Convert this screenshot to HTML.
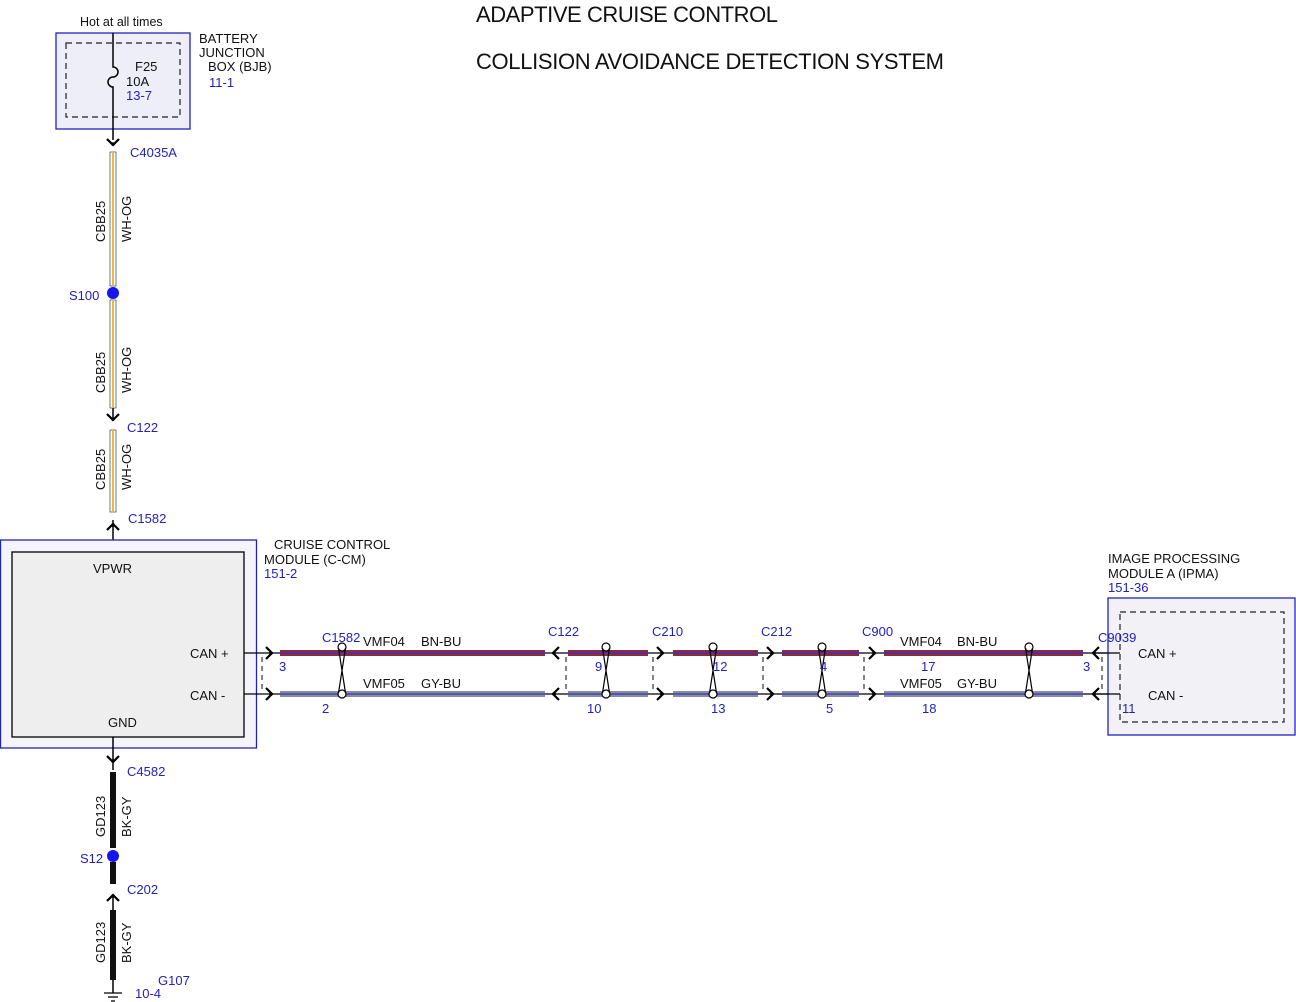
<!DOCTYPE html>
<html><head><meta charset="utf-8"><style>
html,body{margin:0;padding:0;background:#fff}
svg{display:block}
text{font-family:"Liberation Sans",Arial,sans-serif;font-size:13px;fill:#111}
.b{fill:#2222bb}
</style></head><body>
<svg width="1296" height="1002" viewBox="0 0 1296 1002" xmlns="http://www.w3.org/2000/svg">
<defs>
<g id="tw"><circle cx="0" cy="0" r="4" fill="#fff" stroke="#000" stroke-width="1.2"/><circle cx="0" cy="47" r="4" fill="#fff" stroke="#000" stroke-width="1.2"/><path d="M-3.5 1 L3.5 46 M3.5 1 L-3.5 46" stroke="#000" stroke-width="1.2" fill="none"/></g>
<g id="cr"><path d="M-6 -6 L0 0 L-6 6" stroke="#000" stroke-width="2.2" fill="none"/><circle cx="-1" cy="0" r="1.8" fill="#000"/></g>
<g id="cl"><path d="M6 -6 L0 0 L6 6" stroke="#000" stroke-width="2.2" fill="none"/><circle cx="1" cy="0" r="1.8" fill="#000"/></g>
<g id="cd"><path d="M-6 -6 L0 0 L6 -6" stroke="#000" stroke-width="2.2" fill="none"/><circle cx="0" cy="-1" r="1.8" fill="#000"/></g>
<g id="cu"><path d="M-6 6 L0 0 L6 6" stroke="#000" stroke-width="2.2" fill="none"/><circle cx="0" cy="1" r="1.8" fill="#000"/></g>
</defs>

<text x="476" y="22" style="font-size:22px" textLength="302">ADAPTIVE CRUISE CONTROL</text>
<text x="476" y="69" style="font-size:22px" textLength="468">COLLISION AVOIDANCE DETECTION SYSTEM</text>

<text x="80" y="26" style="font-size:12.5px">Hot at all times</text>
<rect x="56" y="33" width="134" height="96" fill="#eeeef8" stroke="#2222bb" stroke-width="1.3"/>
<rect x="66" y="43" width="114" height="74" fill="none" stroke="#222" stroke-dasharray="6,4" stroke-width="1.2"/>
<path d="M113 33 V67 a5 5 0 0 1 0 10 a5 5 0 0 0 0 10 V140" stroke="#000" stroke-width="1.5" fill="none"/>
<text x="135" y="71">F25</text>
<text x="126" y="86">10A</text>
<text x="126" y="100" class="b">13-7</text>
<text x="199" y="43">BATTERY</text>
<text x="199" y="57">JUNCTION</text>
<text x="208" y="71">BOX (BJB)</text>
<text x="209" y="87" class="b">11-1</text>
<use href="#cd" x="113" y="145"/>
<text x="130" y="157" class="b">C4035A</text>

<g>
<rect x="110" y="152" width="6" height="134" fill="#fff" stroke="#555" stroke-width="0.8"/>
<line x1="113" y1="152" x2="113" y2="286" stroke="#e8b84a" stroke-width="2"/>
<rect x="110" y="300" width="6" height="108" fill="#fff" stroke="#555" stroke-width="0.8"/>
<line x1="113" y1="300" x2="113" y2="408" stroke="#e8b84a" stroke-width="2"/>
<line x1="113" y1="408" x2="113" y2="418" stroke="#000" stroke-width="1.5"/>
<use href="#cd" x="113" y="420"/>
<rect x="110" y="430" width="6" height="82" fill="#fff" stroke="#555" stroke-width="0.8"/>
<line x1="113" y1="430" x2="113" y2="512" stroke="#e8b84a" stroke-width="2"/>
<line x1="113" y1="520" x2="113" y2="552" stroke="#000" stroke-width="1.5"/>
<use href="#cu" x="113" y="524"/>
</g>
<circle cx="113" cy="293" r="6" fill="#1515ee"/>
<text x="69" y="300" class="b">S100</text>
<text transform="translate(105,242) rotate(-90)">CBB25</text>
<text transform="translate(131,242) rotate(-90)">WH-OG</text>
<text transform="translate(105,393) rotate(-90)">CBB25</text>
<text transform="translate(131,393) rotate(-90)">WH-OG</text>
<text transform="translate(105,490) rotate(-90)">CBB25</text>
<text transform="translate(131,490) rotate(-90)">WH-OG</text>
<text x="127" y="432" class="b">C122</text>
<text x="128" y="523" class="b">C1582</text>

<rect x="0.5" y="540" width="256" height="208" fill="#f4f4fa" stroke="#2222bb" stroke-width="1.3"/>
<rect x="12" y="552" width="232" height="185" fill="#efeeee" stroke="#000" stroke-width="1.3"/>
<text x="93" y="573">VPWR</text>
<text x="108" y="727">GND</text>
<text x="190" y="658">CAN +</text>
<text x="190" y="700">CAN -</text>
<text x="274" y="549">CRUISE CONTROL</text>
<text x="264" y="564">MODULE (C-CM)</text>
<text x="264" y="578" class="b">151-2</text>

<line x1="244" y1="653" x2="1120" y2="653" stroke="#000" stroke-width="1.2"/>
<line x1="244" y1="694" x2="1120" y2="694" stroke="#000" stroke-width="1.2"/>
<g stroke="#333" stroke-dasharray="5,4" stroke-width="1.2">
<line x1="262" y1="657" x2="262" y2="692"/>
<line x1="566" y1="657" x2="566" y2="692"/>
<line x1="653" y1="657" x2="653" y2="692"/>
<line x1="763" y1="657" x2="763" y2="692"/>
<line x1="864" y1="657" x2="864" y2="692"/>
<line x1="1102" y1="657" x2="1102" y2="692"/>
</g>
<g>
<rect x="280" y="650" width="265" height="6" fill="#8c2a3e"/><rect x="568" y="650" width="80" height="6" fill="#8c2a3e"/><rect x="673" y="650" width="85" height="6" fill="#8c2a3e"/><rect x="782" y="650" width="77" height="6" fill="#8c2a3e"/><rect x="884" y="650" width="199" height="6" fill="#8c2a3e"/>
<rect x="280" y="691" width="265" height="6" fill="#8a8c9a"/><rect x="568" y="691" width="80" height="6" fill="#8a8c9a"/><rect x="673" y="691" width="85" height="6" fill="#8a8c9a"/><rect x="782" y="691" width="77" height="6" fill="#8a8c9a"/><rect x="884" y="691" width="199" height="6" fill="#8a8c9a"/>
<g stroke="#3333cc" stroke-width="1.3">
<line x1="280" y1="653" x2="545" y2="653"/><line x1="568" y1="653" x2="648" y2="653"/><line x1="673" y1="653" x2="758" y2="653"/><line x1="782" y1="653" x2="859" y2="653"/><line x1="884" y1="653" x2="1083" y2="653"/>
<line x1="280" y1="694" x2="545" y2="694"/><line x1="568" y1="694" x2="648" y2="694"/><line x1="673" y1="694" x2="758" y2="694"/><line x1="782" y1="694" x2="859" y2="694"/><line x1="884" y1="694" x2="1083" y2="694"/>
</g>
</g>
<use href="#cr" x="272" y="653"/><use href="#cr" x="272" y="694"/>
<use href="#cl" x="553" y="653"/><use href="#cl" x="553" y="694"/>
<use href="#cr" x="663" y="653"/><use href="#cr" x="663" y="694"/>
<use href="#cr" x="773" y="653"/><use href="#cr" x="773" y="694"/>
<use href="#cr" x="875" y="653"/><use href="#cr" x="875" y="694"/>
<use href="#cl" x="1093" y="653"/><use href="#cl" x="1093" y="694"/>
<use href="#tw" x="342" y="647"/><use href="#tw" x="606" y="647"/><use href="#tw" x="713" y="647"/><use href="#tw" x="822" y="647"/><use href="#tw" x="1029" y="647"/>

<text x="322" y="642" class="b">C1582</text>
<text x="363" y="646">VMF04</text><text x="421" y="646">BN-BU</text>
<text x="363" y="688">VMF05</text><text x="421" y="688">GY-BU</text>
<text x="279" y="671" class="b">3</text><text x="322" y="713" class="b">2</text>
<text x="548" y="636" class="b">C122</text>
<text x="652" y="636" class="b">C210</text>
<text x="761" y="636" class="b">C212</text>
<text x="862" y="636" class="b">C900</text>
<text x="595" y="671" class="b">9</text><text x="587" y="713" class="b">10</text>
<text x="713" y="671" class="b">12</text><text x="711" y="713" class="b">13</text>
<text x="820" y="671" class="b">4</text><text x="826" y="713" class="b">5</text>
<text x="900" y="646">VMF04</text><text x="957" y="646">BN-BU</text>
<text x="900" y="688">VMF05</text><text x="957" y="688">GY-BU</text>
<text x="921" y="671" class="b">17</text><text x="922" y="713" class="b">18</text>
<text x="1083" y="671" class="b">3</text>

<rect x="1108" y="598" width="187" height="137" fill="#f2f2f6" stroke="#2222bb" stroke-width="1.3"/>
<rect x="1120" y="612" width="164" height="110" fill="none" stroke="#222" stroke-dasharray="6,4" stroke-width="1.2"/>
<line x1="1093" y1="653" x2="1120" y2="653" stroke="#000" stroke-width="1.2"/>
<line x1="1093" y1="694" x2="1120" y2="694" stroke="#000" stroke-width="1.2"/>
<text x="1098" y="642" class="b">C9039</text>
<text x="1138" y="658">CAN +</text>
<text x="1148" y="700">CAN -</text>
<text x="1122" y="713" class="b">11</text>
<text x="1108" y="563">IMAGE PROCESSING</text>
<text x="1108" y="578">MODULE A (IPMA)</text>
<text x="1108" y="592" class="b">151-36</text>

<line x1="113" y1="737" x2="113" y2="770" stroke="#000" stroke-width="1.5"/>
<use href="#cd" x="113" y="762"/>
<rect x="110" y="772" width="6" height="76" fill="#111"/>
<rect x="110" y="862" width="6" height="22" fill="#111"/>
<use href="#cu" x="113" y="895"/>
<line x1="113" y1="895" x2="113" y2="910" stroke="#000" stroke-width="1.5"/>
<rect x="110" y="910" width="6" height="70" fill="#111"/>
<line x1="113" y1="980" x2="113" y2="993" stroke="#000" stroke-width="1.5"/>
<line x1="104" y1="993" x2="122" y2="993" stroke="#000" stroke-width="1.3"/>
<line x1="108" y1="997" x2="118" y2="997" stroke="#000" stroke-width="1.3"/>
<line x1="111" y1="1001" x2="115" y2="1001" stroke="#000" stroke-width="1.3"/>
<circle cx="113" cy="856" r="6" fill="#1515ee"/>
<text x="80" y="863" class="b">S12</text>
<text x="127" y="776" class="b">C4582</text>
<text x="127" y="894" class="b">C202</text>
<text transform="translate(105,837) rotate(-90)">GD123</text>
<text transform="translate(131,837) rotate(-90)">BK-GY</text>
<text transform="translate(105,963) rotate(-90)">GD123</text>
<text transform="translate(131,963) rotate(-90)">BK-GY</text>
<text x="158" y="985" class="b">G107</text>
<text x="135" y="998" class="b">10-4</text>
</svg>
</body></html>
